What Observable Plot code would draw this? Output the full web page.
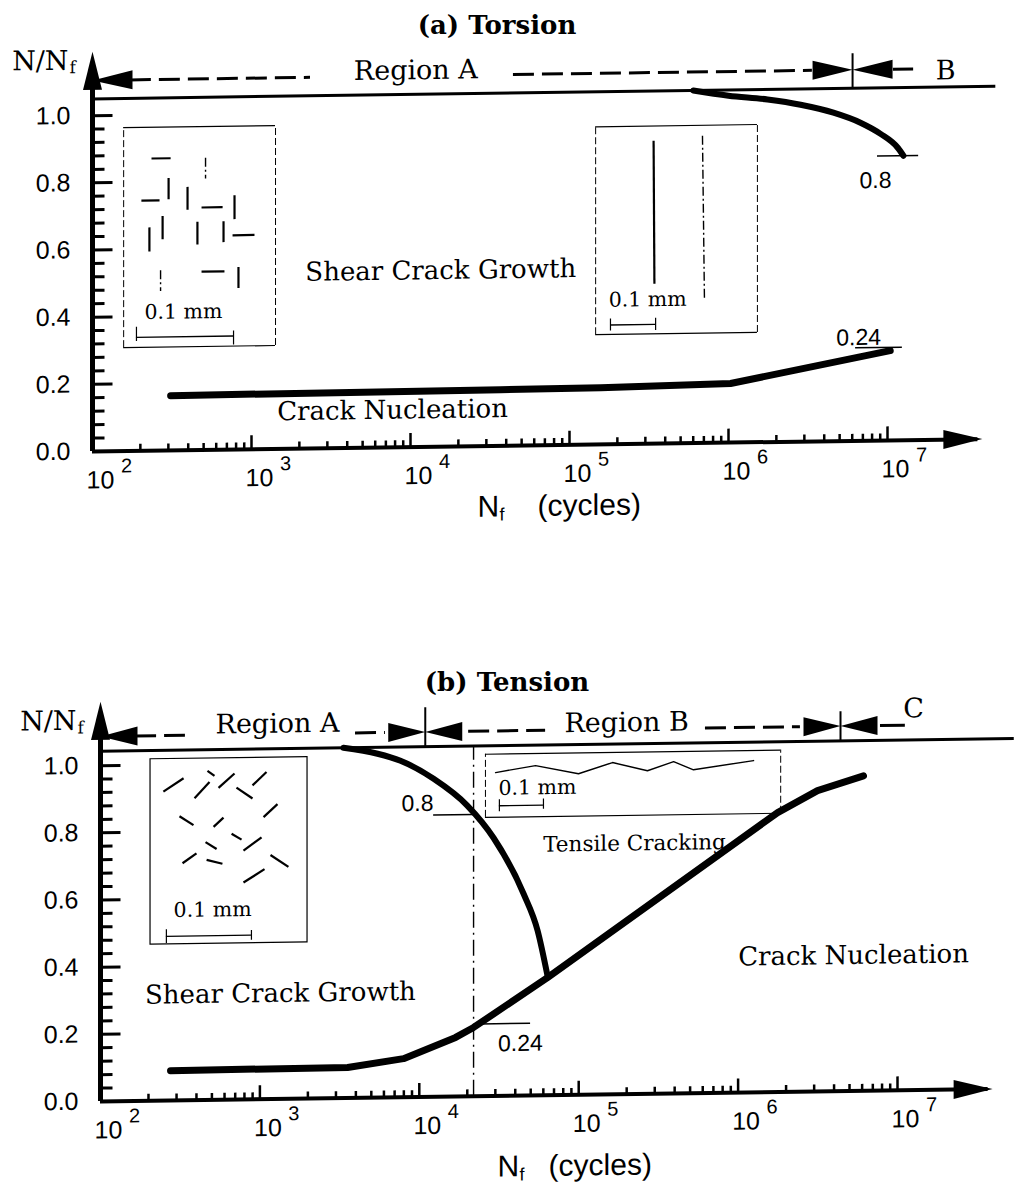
<!DOCTYPE html>
<html><head><meta charset="utf-8">
<script src="https://cdn.jsdelivr.net/npm/d3@7"></script>
<script src="https://cdn.jsdelivr.net/npm/@observablehq/plot@0.6"></script>
<style>
html,body{margin:0;padding:0;background:#fff;}
#page{position:relative;width:1014px;height:1184px;overflow:hidden;background:#fff;}
.title{position:absolute;width:1014px;text-align:center;font-family:"DejaVu Serif",serif;font-weight:bold;font-size:26px;line-height:34px;color:#000;}
.chart{position:absolute;left:0;width:1014px;}
.chart svg{overflow:visible;}
</style></head><body>
<div id="page">
  <div class="title" style="top:8px;left:-10px">(a) Torsion</div>
  <div class="chart" id="ca" style="top:40px"></div>
  <div class="title" style="top:665px;left:0px">(b) Tension</div>
  <div class="chart" id="cb" style="top:690px"></div>
</div>
<script>
const SERIF = "DejaVu Serif";
const SANS = "Liberation Sans";

// ---------------- shared axis values ----------------
const xMajorTicks = [1e2, 1e3, 1e4, 1e5, 1e6, 1e7];
const xTickExponents = ["2", "3", "4", "5", "6", "7"];
const xMinorTicks = [
  200, 300, 400, 500, 600, 700, 800, 900,
  2e3, 3e3, 4e3, 5e3, 6e3, 7e3, 8e3, 9e3,
  2e4, 3e4, 4e4, 5e4, 6e4, 7e4, 8e4, 9e4,
  2e5, 3e5, 4e5, 5e5, 6e5, 7e5, 8e5, 9e5,
  2e6, 3e6, 4e6, 5e6, 6e6, 7e6, 8e6, 9e6
];
const yLabelTicks = [0, 0.2, 0.4, 0.6, 0.8, 1.0];
const yMajorTicks = [0.2, 0.4, 0.6, 0.8, 1.0];
const yMinorTicks = [0.04, 0.08, 0.12, 0.16, 0.24, 0.28, 0.32, 0.36, 0.44, 0.48,
  0.52, 0.56, 0.64, 0.68, 0.72, 0.76, 0.84, 0.88, 0.92, 0.96];
const xAxisLine = [{x1: 100, x2: 3.7e7, v: 0}];
const xAxisArrow = [{N: 3.95e7, v: 0}];
const yAxisLine = [{N: 100, y1: 0, y2: 1.1}];
const yAxisArrow = [{N: 100, v: 1.19}];

// ---------------- (a) Torsion ----------------
const torsionFailureLine = [{x1: 100, x2: 4.8e7, v: 1.05}];
const torsionGrowthBoundary = [
  [6.0e5, 1.05], [1.0e6, 1.033], [1.76e6, 1.02], [2.84e6, 1.003], [4.57e6, 0.978],
  [6.76e6, 0.947], [9.04e6, 0.913], [1.16e7, 0.871], [1.26e7, 0.847]
];
const torsionNucleation = [
  [310, 0.163], [3.68e4, 0.167], [1.57e5, 0.169], [1.03e6, 0.176], [1.04e7, 0.267]
];
const torsionValueLines = [{x1: 8.65e6, x2: 1.57e7, v: 0.847}, {x1: 6.3e6, x2: 1.24e7, v: 0.277}];
const torsionValueLabels = [{N: 8.41e6, v: 0.774, text: "0.8"}, {N: 6.58e6, v: 0.307, text: "0.24"}];
const torsionAreaLabels = [
  {N: 1.55e4, v: 0.524, text: "Shear Crack Growth"},
  {N: 7.71e3, v: 0.110, text: "Crack Nucleation"}
];
const torsionSmallLabels = [];
const torsionRegionDashes = [{x1: 173, x2: 2350, v: 1.105}, {x1: 4.44e4, x2: 3.37e6, v: 1.105}];
const torsionRegionSolid = [{x1: 1.09e7, x2: 1.46e7, v: 1.105}];
const torsionHeadsLeft = [{N: 100, v: 1.105}, {N: 6.03e6, v: 1.105}];
const torsionHeadsRight = [{N: 6.03e6, v: 1.105}];
const torsionDividers = [{N: 6.03e6, y1: 1.05, y2: 1.153}];
const torsionRegionLabels = [{N: 1.08e4, v: 1.121, text: "Region A"}, {N: 2.32e7, v: 1.098, text: "B"}];
const torsionInsetBoxesSolid = [];
const torsionInsetBoxesDashed = [
  {x1: 157, x2: 1416, y1: 0.308, y2: 0.963},
  {x1: 1.46e5, x2: 1.52e6, y1: 0.327, y2: 0.946}
];
const torsionCracks = [
  {x1: 235, y1: 0.870, x2: 310, y2: 0.870}, {x1: 301, y1: 0.811, x2: 301, y2: 0.748},
  {x1: 203, y1: 0.745, x2: 264, y2: 0.745}, {x1: 396, y1: 0.784, x2: 396, y2: 0.716},
  {x1: 485, y1: 0.722, x2: 658, y2: 0.722}, {x1: 782, y1: 0.757, x2: 782, y2: 0.686},
  {x1: 276, y1: 0.698, x2: 276, y2: 0.629}, {x1: 228, y1: 0.665, x2: 228, y2: 0.593},
  {x1: 457, y1: 0.680, x2: 457, y2: 0.612}, {x1: 667, y1: 0.680, x2: 667, y2: 0.618},
  {x1: 760, y1: 0.638, x2: 1044, y2: 0.638}, {x1: 485, y1: 0.531, x2: 676, y2: 0.531},
  {x1: 828, y1: 0.543, x2: 828, y2: 0.481},
  {x1: 3.38e5, y1: 0.902, x2: 3.42e5, y2: 0.476}
];
const torsionCracksFaint = [
  {x1: 514, y1: 0.870, x2: 514, y2: 0.808}, {x1: 268, y1: 0.537, x2: 268, y2: 0.475},
  {x1: 6.86e5, y1: 0.915, x2: 7.06e5, y2: 0.424}
];
const torsionCrackPaths = [];
const torsionScaleBars = [{x1: 189, x2: 771, v: 0.338}, {x1: 1.81e5, x2: 3.48e5, v: 0.355}];
const torsionScaleEnds = [
  {N: 189, y1: 0.326, y2: 0.368}, {N: 771, y1: 0.311, y2: 0.353},
  {N: 1.81e5, y1: 0.337, y2: 0.373}, {N: 3.48e5, y1: 0.337, y2: 0.373}
];
const torsionScaleLabels = [{N: 373, v: 0.412, text: "0.1 mm"}, {N: 3.10e5, v: 0.429, text: "0.1 mm"}];
const torsionGuides = [];

// ---------------- (b) Tension ----------------
const tensionFailureLine = [{x1: 100, x2: 5.4e7, v: 1.043}];
const tensionShearBoundary = [
  [3.34e3, 1.043], [5.47e3, 1.024], [7.62e3, 1.002], [1.23e4, 0.947], [2.0e4, 0.866],
  [2.92e4, 0.769], [4.51e4, 0.601], [5.52e4, 0.491], [6.37e4, 0.356]
];
const tensionNucleation = [
  [275, 0.089], [3.55e3, 0.091], [7.96e3, 0.115], [1.69e4, 0.176], [2.19e4, 0.205],
  [6.37e4, 0.350], [1.77e6, 0.832], [3.15e6, 0.896], [6.12e6, 0.938]
];
const tensionValueLines = [{x1: 1.23e4, x2: 2.19e4, v: 0.839}, {x1: 2.42e4, x2: 4.99e4, v: 0.215}];
const tensionValueLabels = [{N: 9750, v: 0.874, text: "0.8"}, {N: 4.31e4, v: 0.155, text: "0.24"}];
const tensionAreaLabels = [
  {N: 1345, v: 0.314, text: "Shear Crack Growth"},
  {N: 5.3e6, v: 0.403, text: "Crack Nucleation"}
];
const tensionSmallLabels = [{N: 2.24e5, v: 0.746, text: "Tensile Cracking"}];
const tensionRegionDashes = [
  {x1: 166, x2: 341, v: 1.087}, {x1: 3980, x2: 6130, v: 1.087},
  {x1: 2.04e4, x2: 6.2e4, v: 1.087}, {x1: 6.24e5, x2: 2.46e6, v: 1.087}
];
const tensionRegionSolid = [{x1: 7.82e6, x2: 1.12e7, v: 1.087}];
const tensionHeadsLeft = [{N: 100, v: 1.087}, {N: 1.09e4, v: 1.087}, {N: 4.39e6, v: 1.087}];
const tensionHeadsRight = [{N: 1.09e4, v: 1.087}, {N: 4.39e6, v: 1.087}];
const tensionDividers = [{N: 1.09e4, y1: 1.043, y2: 1.159}, {N: 4.39e6, y1: 1.043, y2: 1.13}];
const tensionRegionLabels = [
  {N: 1290, v: 1.117, text: "Region A"}, {N: 2.0e5, v: 1.106, text: "Region B"},
  {N: 1.26e7, v: 1.136, text: "C"}
];
const tensionInsetBoxesSolid = [{x1: 206, x2: 1990, y1: 0.465, y2: 1.017}];
const tensionInsetBoxesDashed = [{x1: 2.60e4, x2: 1.85e6, y1: 0.83, y2: 1.018}];
const tensionCracks = [
  {x1: 248, y1: 0.920, x2: 332, y2: 0.959}, {x1: 469, y1: 0.980, x2: 519, y2: 0.965},
  {x1: 389, y1: 0.899, x2: 483, y2: 0.947}, {x1: 550, y1: 0.929, x2: 693, y2: 0.971},
  {x1: 899, y1: 0.935, x2: 1100, y2: 0.974}, {x1: 713, y1: 0.929, x2: 899, y2: 0.896},
  {x1: 313, y1: 0.846, x2: 383, y2: 0.819}, {x1: 512, y1: 0.813, x2: 591, y2: 0.840},
  {x1: 1054, y1: 0.840, x2: 1289, y2: 0.878}, {x1: 664, y1: 0.792, x2: 767, y2: 0.774},
  {x1: 456, y1: 0.768, x2: 535, y2: 0.747}, {x1: 789, y1: 0.741, x2: 1024, y2: 0.780},
  {x1: 327, y1: 0.706, x2: 400, y2: 0.735}, {x1: 463, y1: 0.715, x2: 582, y2: 0.703},
  {x1: 1165, y1: 0.727, x2: 1510, y2: 0.691}, {x1: 789, y1: 0.646, x2: 1069, y2: 0.685}
];
const tensionCracksFaint = [];
const tensionCrackPaths = [
  [3.01e4, 0.963], [5.36e4, 0.982], [9.97e4, 0.956], [1.63e5, 0.988],
  [2.70e5, 0.962], [3.94e5, 0.988], [5.25e5, 0.963], [1.25e6, 0.988]
];
const tensionScaleBars = [{x1: 259, x2: 885, v: 0.489}, {x1: 3.18e4, x2: 6.01e4, v: 0.864}];
const tensionScaleEnds = [
  {N: 259, y1: 0.468, y2: 0.509}, {N: 885, y1: 0.474, y2: 0.503},
  {N: 3.18e4, y1: 0.846, y2: 0.882}, {N: 6.01e4, y1: 0.852, y2: 0.882}
];
const tensionScaleLabels = [{N: 505, v: 0.566, text: "0.1 mm"}, {N: 5.51e4, v: 0.916, text: "0.1 mm"}];
const tensionGuides = [{N: 2.19e4, y1: 0, y2: 1.043}];

// ---------------- drawing ----------------
const hTick = L => ({draw(c) { c.moveTo(0, 0); c.lineTo(L, 0); }});
const vTick = L => ({draw(c) { c.moveTo(0, 0); c.lineTo(0, -L); }});
const head = (dir, L, W) => ({draw(c) {
  const h = W / 2;
  if (dir === "right") { c.moveTo(0, 0); c.lineTo(-L, -h); c.lineTo(-L, h); }
  else if (dir === "left") { c.moveTo(0, 0); c.lineTo(L, -h); c.lineTo(L, h); }
  else { c.moveTo(0, 0); c.lineTo(-h, L); c.lineTo(h, L); }
  c.closePath();
}});

function panel(p) {
  const K = "#000";
  const rangeW = p.decade * 5.7;
  const marks = [
    // failure line N/Nf
    Plot.ruleY(p.failure, {y: "v", x1: "x1", x2: "x2", stroke: K, strokeWidth: 3}),
    // inset boxes
    Plot.rect(p.boxesSolid, {x1: "x1", x2: "x2", y1: "y1", y2: "y2", fill: "none", stroke: K, strokeWidth: 1.2}),
    Plot.ruleY(p.boxesDashed, {y: "y2", x1: "x1", x2: "x2", stroke: K, strokeWidth: 1.2}),
    Plot.ruleY(p.boxesDashed, {y: "y1", x1: "x1", x2: "x2", stroke: K, strokeWidth: 1.2}),
    Plot.ruleX(p.boxesDashed, {x: "x1", y1: "y1", y2: "y2", stroke: K, strokeWidth: 1, strokeDasharray: "7,3"}),
    Plot.ruleX(p.boxesDashed, {x: "x2", y1: "y1", y2: "y2", stroke: K, strokeWidth: 1, strokeDasharray: "7,3"}),
    Plot.link(p.cracks, {x1: "x1", y1: "y1", x2: "x2", y2: "y2", stroke: K, strokeWidth: 2.2}),
    Plot.link(p.cracksFaint, {x1: "x1", y1: "y1", x2: "x2", y2: "y2", stroke: K, strokeWidth: 1.4, strokeDasharray: "9,3,2,3"}),
    Plot.line(p.crackPath, {x: d => d[0], y: d => d[1], stroke: K, strokeWidth: 1.4}),
    Plot.ruleY(p.scaleBars, {y: "v", x1: "x1", x2: "x2", stroke: K, strokeWidth: 1.4}),
    Plot.ruleX(p.scaleEnds, {x: "N", y1: "y1", y2: "y2", stroke: K, strokeWidth: 1.2}),
    Plot.text(p.scaleLabels, {x: "N", y: "v", text: "text", fill: K, fontFamily: SERIF, fontSize: 20.5}),
    // guide (dash-dot vertical)
    Plot.ruleX(p.guides, {x: "N", y1: "y1", y2: "y2", stroke: K, strokeWidth: 1.4, strokeDasharray: "16,5,2,5"}),
    // value markers
    Plot.ruleY(p.valueLines, {y: "v", x1: "x1", x2: "x2", stroke: K, strokeWidth: 1.5}),
    Plot.text(p.valueLabels, {x: "N", y: "v", text: "text", fill: K, fontFamily: SANS, fontSize: 23}),
    // boundary curves
    Plot.line(p.upper, {x: d => d[0], y: d => d[1], curve: "monotone-x", stroke: K, strokeWidth: 6}),
    Plot.line(p.lower, {x: d => d[0], y: d => d[1], curve: "linear", stroke: K, strokeWidth: 7}),
    // area labels
    Plot.text(p.areaLabels, {x: "N", y: "v", text: "text", fill: K, fontFamily: SERIF, fontSize: 26}),
    Plot.text(p.smallLabels, {x: "N", y: "v", text: "text", fill: K, fontFamily: SERIF, fontSize: 21.5}),
    // region arrows
    Plot.ruleY(p.regionDashes, {y: "v", x1: "x1", x2: "x2", stroke: K, strokeWidth: 3, strokeDasharray: "21,8"}),
    Plot.ruleY(p.regionSolid, {y: "v", x1: "x1", x2: "x2", stroke: K, strokeWidth: 3}),
    Plot.ruleX(p.dividers, {x: "N", y1: "y1", y2: "y2", stroke: K, strokeWidth: 2}),
    Plot.dot(p.headsLeft, {x: "N", y: "v", symbol: head("left", p.headL, 19), fill: K, stroke: "none"}),
    Plot.dot(p.headsRight, {x: "N", y: "v", symbol: head("right", p.headL, 19), fill: K, stroke: "none"}),
    Plot.text(p.regionLabels, {x: "N", y: "v", text: "text", fill: K, fontFamily: SERIF, fontSize: 27}),
    // axes
    Plot.ruleX(yAxisLine, {x: "N", y1: "y1", y2: "y2", stroke: K, strokeWidth: 5}),
    Plot.dot(yAxisArrow, {x: "N", y: "v", symbol: head("up", 38, 19), fill: K, stroke: "none"}),
    Plot.ruleY(xAxisLine, {y: "v", x1: "x1", x2: "x2", stroke: K, strokeWidth: 4}),
    Plot.dot(xAxisArrow, {x: "N", y: "v", symbol: head("right", 39, 19), fill: K, stroke: "none"}),
    Plot.dot(yMinorTicks, {y: d => d, frameAnchor: "left", symbol: hTick(12), fill: "none", stroke: K, strokeWidth: 3}),
    Plot.dot(yMajorTicks, {y: d => d, frameAnchor: "left", symbol: hTick(20), fill: "none", stroke: K, strokeWidth: 3}),
    Plot.dot(xMinorTicks, {x: d => d, y: 0, symbol: vTick(7), fill: "none", stroke: K, strokeWidth: 2.5}),
    Plot.dot(xMajorTicks.slice(1), {x: d => d, y: 0, symbol: vTick(14), fill: "none", stroke: K, strokeWidth: 2.5}),
    Plot.text(yLabelTicks, {y: d => d, frameAnchor: "left", text: d => d.toFixed(1), textAnchor: "end", dx: -22, fill: K, fontFamily: SANS, fontSize: 25}),
    Plot.text(xMajorTicks, {x: d => d, y: 0, text: () => "10", dx: 8, dy: 29, fill: K, fontFamily: SANS, fontSize: 25}),
    Plot.text(xMajorTicks, {x: d => d, y: 0, text: (d, i) => xTickExponents[i], dx: 34, dy: 15, fill: K, fontFamily: SANS, fontSize: 20}),
    // axis titles
    Plot.text([p.yTitle], {y: "v", frameAnchor: "left", text: () => "N/N", textAnchor: "end", dx: -24, fill: K, fontFamily: SERIF, fontSize: 27}),
    Plot.text([p.yTitle], {y: "v", frameAnchor: "left", text: () => "f", textAnchor: "start", dx: -23, dy: 7, fill: K, fontFamily: SERIF, fontSize: 17}),
    Plot.text([p.xTitle], {x: "N", y: 0, text: () => "N", textAnchor: "start", dy: p.xTitleDy, fill: K, fontFamily: SANS, fontSize: 30}),
    Plot.text([p.xTitle], {x: "N", y: 0, text: () => "f", textAnchor: "start", dx: 22, dy: p.xTitleDy + 8, fill: K, fontFamily: SANS, fontSize: 18}),
    Plot.text([p.xTitle], {x: "C", y: 0, text: () => "(cycles)", textAnchor: "start", dy: p.xTitleDy, fill: K, fontFamily: SANS, fontSize: 30})
  ];
  const svg = Plot.plot({
    width: 1014, height: 480,
    marginLeft: p.marginLeft, marginRight: 1014 - p.marginLeft - rangeW,
    marginTop: 8, marginBottom: 69,
    x: {type: "log", domain: [100, 10 ** 7.7], axis: null},
    y: {domain: [0, 1.2], axis: null},
    style: {background: "transparent", overflow: "visible"},
    marks
  });
  svg.style.transformOrigin = `${p.marginLeft}px 411px`;
  svg.style.transform = "skewY(-0.8deg)";
  return svg;
}

document.getElementById("ca").append(panel({
  marginLeft: 92, decade: 159, headL: 40,
  failure: torsionFailureLine, upper: torsionGrowthBoundary, lower: torsionNucleation,
  valueLines: torsionValueLines, valueLabels: torsionValueLabels,
  areaLabels: torsionAreaLabels, smallLabels: torsionSmallLabels,
  regionDashes: torsionRegionDashes, regionSolid: torsionRegionSolid,
  headsLeft: torsionHeadsLeft, headsRight: torsionHeadsRight, dividers: torsionDividers,
  regionLabels: torsionRegionLabels,
  boxesSolid: torsionInsetBoxesSolid, boxesDashed: torsionInsetBoxesDashed,
  cracks: torsionCracks, cracksFaint: torsionCracksFaint, crackPath: torsionCrackPaths,
  scaleBars: torsionScaleBars, scaleEnds: torsionScaleEnds, scaleLabels: torsionScaleLabels,
  guides: torsionGuides,
  yTitle: {v: 1.164}, xTitle: {N: 2.64e4, C: 6.3e4}, xTitleDy: 61
}));

document.getElementById("cb").append(panel({
  marginLeft: 100, decade: 159.4, headL: 37,
  failure: tensionFailureLine, upper: tensionShearBoundary, lower: tensionNucleation,
  valueLines: tensionValueLines, valueLabels: tensionValueLabels,
  areaLabels: tensionAreaLabels, smallLabels: tensionSmallLabels,
  regionDashes: tensionRegionDashes, regionSolid: tensionRegionSolid,
  headsLeft: tensionHeadsLeft, headsRight: tensionHeadsRight, dividers: tensionDividers,
  regionLabels: tensionRegionLabels,
  boxesSolid: tensionInsetBoxesSolid, boxesDashed: tensionInsetBoxesDashed,
  cracks: tensionCracks, cracksFaint: tensionCracksFaint, crackPath: tensionCrackPaths,
  scaleBars: tensionScaleBars, scaleEnds: tensionScaleEnds, scaleLabels: tensionScaleLabels,
  guides: tensionGuides,
  yTitle: {v: 1.134}, xTitle: {N: 3.10e4, C: 6.47e4}, xTitleDy: 71
}));
</script>
</body></html>
